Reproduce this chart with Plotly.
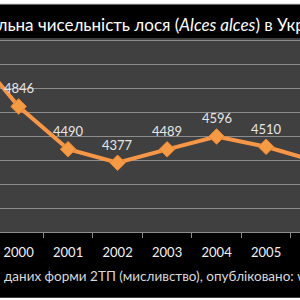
import plotly.graph_objects as go

years = ["1999", "2000", "2001", "2002", "2003", "2004", "2005", "2006"]
moose = [5340, 4846, 4490, 4377, 4489, 4596, 4510, 4390]

title_text = "Загальна чисельність лося (<i>Alces alces</i>) в Україні"
source_text = "даних форми 2ТП (мисливство), опубліковано: www.ukrstat.gov.ua"

ORANGE = "#F79646"
FONT = "Lato, Liberation Sans, sans-serif"

fig = go.Figure()
fig.add_trace(go.Scatter(
    x=years, y=moose, mode="lines+markers",
    line=dict(color=ORANGE, width=4),
    marker=dict(symbol="diamond", size=12, color="#F59B45",
                line=dict(color="#E8842E", width=1)),
    hoverinfo="skip", showlegend=False,
))

for i, v in enumerate(moose):
    fig.add_annotation(x=i, y=v, xref="x", yref="y", text=str(v), showarrow=False,
                       yshift=18, font=dict(family=FONT, size=13, color="#E6E6E6"))

# title (cut by frame on the left/right like the reference)
fig.add_annotation(xref="paper", yref="paper", x=-0.126, y=1.072,
                   xanchor="left", yanchor="middle", showarrow=False,
                   text=title_text,
                   font=dict(family=FONT, size=17, color="#FFFFFF"))
# source
fig.add_annotation(xref="paper", yref="paper", x=0.005, y=-0.227,
                   xanchor="left", yanchor="middle", showarrow=False,
                   text=source_text,
                   font=dict(family=FONT, size=13.5, color="#D9D9D9"))

# white strips of the screenshot frame
fig.add_shape(type="rect", xref="paper", yref="paper", x0=-0.1, x1=1.1, y0=1.175, y1=1.4,
              fillcolor="#FFFFFF", line=dict(width=0), layer="above")
fig.add_shape(type="line", xref="paper", yref="paper", x0=-0.1, x1=1.1, y0=1.175, y1=1.175,
              line=dict(color="#BFBFBF", width=1), layer="above")
fig.add_shape(type="rect", xref="paper", yref="paper", x0=-0.1, x1=1.1, y0=-0.339, y1=-0.6,
              fillcolor="#FFFFFF", line=dict(width=0), layer="above")

fig.update_layout(
    width=300, height=300, autosize=False,
    margin=dict(l=0, r=0, t=38, b=68, pad=0),
    paper_bgcolor="#000000", plot_bgcolor="#404040",
    xaxis=dict(type="category", range=[0.624, 6.685], showgrid=False,
               showline=True, linecolor="#8C8C8C", linewidth=1,
               ticks="outside", ticklen=5, tickcolor="#8C8C8C", tickson="boundaries",
               ticklabelstandoff=8,
               tickfont=dict(family=FONT, size=13, color="#F2F2F2"),
               zeroline=False, fixedrange=True),
    yaxis=dict(range=[3800, 5416.7], dtick=200, tick0=3800, showgrid=True,
               gridcolor="#8C8C8C", gridwidth=1, showticklabels=False,
               zeroline=False, showline=False, fixedrange=True),
)

fig.write_html("out.html")
